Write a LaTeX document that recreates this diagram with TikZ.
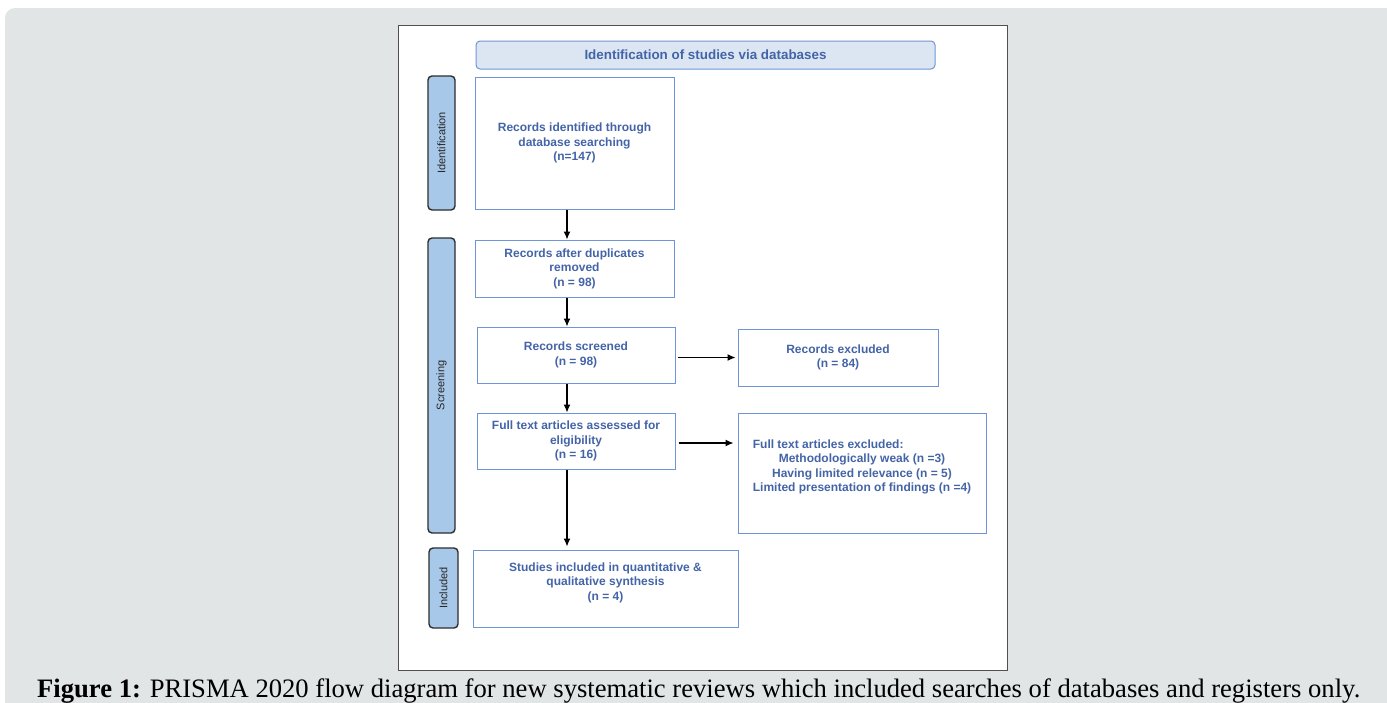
\documentclass[tikz,border=0pt]{standalone}
\usepackage{fontspec}
\usepackage{graphicx, xcolor, calc}
\usetikzlibrary{arrows.meta}
\newfontfamily\diafont{Liberation Sans}
\newfontfamily\capfont{Liberation Serif}
\definecolor{txtblue}{RGB}{68,100,168}
\definecolor{boxblue}{RGB}{110,150,215}
\definecolor{titlefill}{RGB}{220,230,243}
\definecolor{sideblue}{RGB}{168,200,233}
\definecolor{sidedark}{RGB}{45,45,45}
\definecolor{bggray}{RGB}{225,229,230}
\definecolor{panelgray}{RGB}{80,80,80}
\begin{document}
\begin{tikzpicture}[x=1pt, y=-1pt,
	box/.style={draw=boxblue, line width=1pt, fill=white, text=txtblue, align=center, inner sep=0pt,
		font=\diafont\fontsize{12}{14.5}\selectfont\bfseries},
	side/.style={draw=sidedark, fill=sideblue, line width=1.4pt, rounded corners=4pt, rotate=90, inner sep=0pt,
		font=\diafont\fontsize{11}{13}\selectfont, text=black!85},
	arr/.style={line width=1.2pt, -{Latex[length=8pt,width=7pt]}}]
	
	\useasboundingbox (0,0) rectangle (1387,702);
	\fill[white] (0,0) rectangle (1387,702);
	\fill[bggray, rounded corners=10pt] (5,8) rectangle (1400,730);
	\draw[panelgray, fill=white] (398,25) rectangle (1007,670);
	
	\node[box, rounded corners=4pt, fill=titlefill, minimum width=459pt, minimum height=28pt,
		font=\diafont\fontsize{13.4}{15}\selectfont\bfseries] (title) at (705.5,55) {Identification of studies via databases};
	
	\node[side, minimum width=134pt, minimum height=27pt] (sideid) at (441.5,143) {Identification};
	\node[side, minimum width=295pt, minimum height=27pt] (sidescr) at (441.5,385.5) {Screening};
	\node[side, minimum width=80pt, minimum height=29pt] (sideinc) at (443.5,588) {Included};
	
	\node[box, minimum width=199pt, minimum height=132pt] (ident) at (574.5,143)
		{Records identified through\\database searching\\(n=147)};
	\node[box, minimum width=199pt, minimum height=57pt] (dupl) at (574.5,268.5)
		{Records after duplicates\\removed\\(n = 98)};
	\node[box, minimum width=198pt, minimum height=56pt] (screen) at (576,355)
		{Records screened\\(n = 98)};
	\node[box, minimum width=198pt, minimum height=56pt] (full) at (576,441)
		{Full text articles assessed for\\eligibility\\(n = 16)};
	\node[box, minimum width=265pt, minimum height=77pt] (incl) at (605.5,588.5)
		{Studies included in quantitative \&\\qualitative synthesis\\(n = 4)\\~};
	\node[box, minimum width=200pt, minimum height=57pt] (excl) at (838,357.5)
		{Records excluded\\(n = 84)};
	\node[box, minimum width=248pt, minimum height=120pt] (fullexcl) at (862,473)
		{\makebox[\widthof{Limited presentation of findings (n =4)}][l]{Full text articles excluded:}\\
		Methodologically weak (n =3)\\Having limited relevance (n = 5)\\Limited presentation of findings (n =4)\\~};
	
	\coordinate (flow) at (567,0);
	\draw[arr] (ident.south -| flow) -- (dupl.north -| flow);
	\draw[arr] (dupl.south -| flow) -- (screen.north -| flow);
	\draw[arr] (screen.south -| flow) -- (full.north -| flow);
	\draw[arr, shorten >=3pt] (full.south -| flow) -- (incl.north -| flow);
	\draw[arr, shorten <=2pt, shorten >=2pt] (screen.east |- excl.west) -- (excl.west);
	\draw[arr, shorten <=3pt, shorten >=4pt] ([yshift=-2pt]full.east) -- ([yshift=-2pt]full.east -| fullexcl.west);
	
	\node[anchor=base west, inner sep=0pt] (cap) at (37,697)
		{\resizebox{1323pt}{!}{\capfont\fontsize{22}{26}\selectfont\textbf{Figure 1:} PRISMA 2020 flow diagram for new systematic reviews which included searches of databases and registers only.}};
\end{tikzpicture}
\end{document}
